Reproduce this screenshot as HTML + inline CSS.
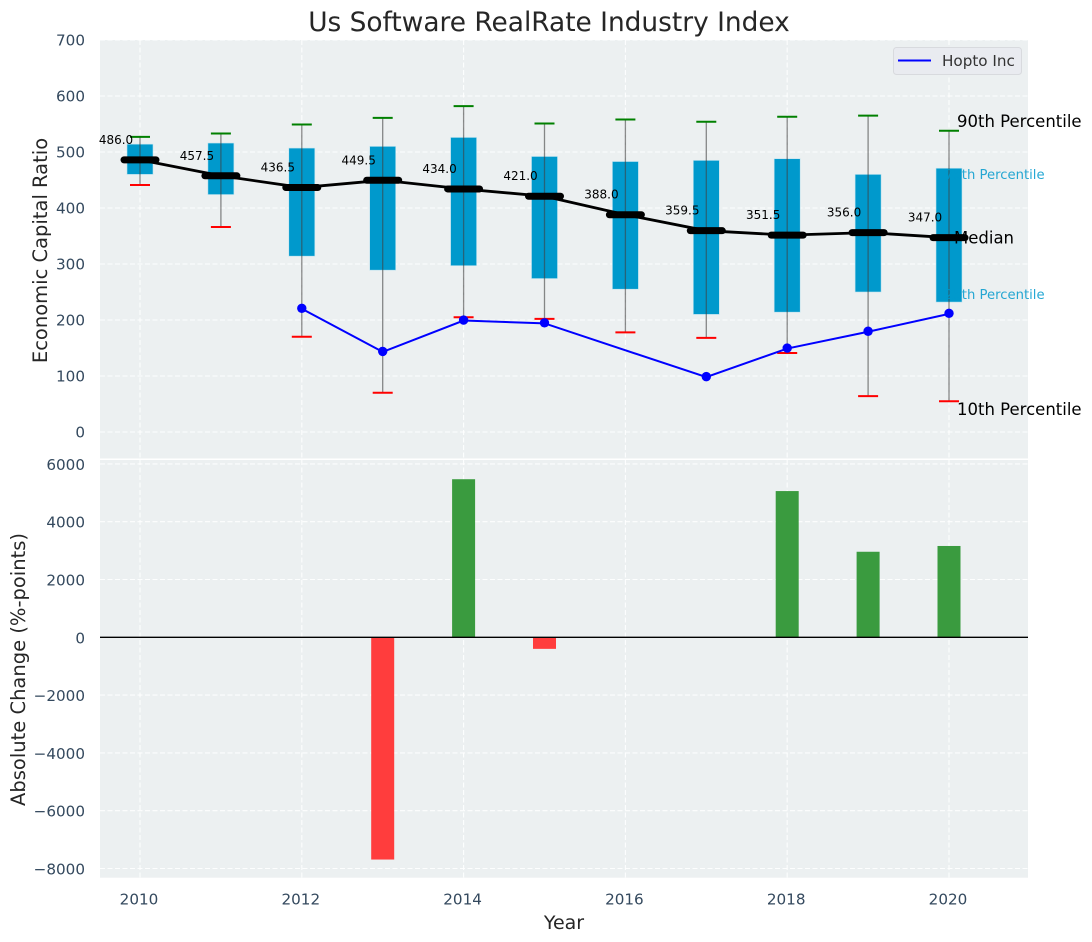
<!DOCTYPE html>
<html>
<head>
<meta charset="utf-8">
<title>Us Software RealRate Industry Index</title>
<style>
html,body{margin:0;padding:0;background:#fff;}
svg{display:block;font-family:"DejaVu Sans","Liberation Sans",sans-serif;}
</style>
</head>
<body>
<svg id="chart" xmlns="http://www.w3.org/2000/svg" width="1092" height="942" viewBox="0 0 1092 942">
<text x="549" y="31" text-anchor="middle" font-size="26.4" fill="#262626">Us Software RealRate Industry Index</text>
<rect x="100" y="40" width="928" height="418.5" fill="#ecf0f1"/>
<rect x="100" y="460" width="928" height="417.7" fill="#ecf0f1"/>
<g id="grid"></g>
<g id="boxes"></g>
<g id="medians"></g>
<g id="company"></g>
<g id="bars"></g>
<g id="ticks"></g>
<text transform="translate(47,250.5) rotate(-90)" text-anchor="middle" font-size="19.5" fill="#262626">Economic Capital Ratio</text>
<text transform="translate(25,669.5) rotate(-90)" text-anchor="middle" font-size="19.5" fill="#262626">Absolute Change (%-points)</text>
<text x="564" y="929" text-anchor="middle" font-size="19" fill="#262626">Year</text>
<text x="957" y="127" font-size="16.5" fill="#000">90th Percentile</text>
<text x="945" y="179" font-size="13.2" fill="#0099cc" fill-opacity="0.85">75th Percentile</text>
<text x="954" y="243.5" font-size="16.5" fill="#000">Median</text>
<text x="945" y="299" font-size="13.2" fill="#0099cc" fill-opacity="0.85">25th Percentile</text>
<text x="957" y="415" font-size="16.5" fill="#000">10th Percentile</text>
<g>
<rect x="893.5" y="47.5" width="128" height="27" rx="3" fill="#e9ebf0" stroke="#d8dade" stroke-width="1"/>
<line x1="898" y1="60.5" x2="931" y2="60.5" stroke="#0000ff" stroke-width="2"/>
<text x="942" y="66" font-size="15.2" fill="#333">Hopto Inc</text>
</g>
</svg>
<script>
const years = [2010,2011,2012,2013,2014,2015,2016,2017,2018,2019,2020];
const p90 = [527,533,549,561,582,551,558,554,563,565,538];
const p75 = [514,516,507,510,526,492,483,485,488,460,471];
const medianValues = [486.0,457.5,436.5,449.5,434.0,421.0,388.0,359.5,351.5,356.0,347.0];
const p25 = [460,424,314,289,297,274,255,210,214,250,232];
const p10 = [441,366,170,70,205,202,178,168,141,64,55];
const companyYears = [2012,2013,2014,2015,2017,2018,2019,2020];
const companyValues = [220,143,199,194,98,149,179,211];
const changeYears = [2013,2014,2015,2018,2019,2020];
const changeValues = [-7690,5470,-400,5060,2960,3160];
const xTickLabels = [2010,2012,2014,2016,2018,2020];
const upperYTicks = [0,100,200,300,400,500,600,700];
const lowerYTicks = [-8000,-6000,-4000,-2000,0,2000,4000,6000];

const NS = 'http://www.w3.org/2000/svg';
function xAxis(v){ return 140 + (v - 2010) * 80.9; }
function yUpper(v){ return 432 - v * 0.56; }
function yLower(v){ return 637.3 - v * 0.0289; }
function make(tag, parent, attrs, text){
  const el = document.createElementNS(NS, tag);
  for (const k in attrs) el.setAttribute(k, attrs[k]);
  if (text !== undefined) el.textContent = text;
  parent.appendChild(el);
  return el;
}
const grid = document.getElementById('grid');
const boxes = document.getElementById('boxes');
const medians = document.getElementById('medians');
const company = document.getElementById('company');
const bars = document.getElementById('bars');
const ticks = document.getElementById('ticks');
const dashStyle = {stroke:'#ffffff','stroke-width':1.1,'stroke-dasharray':'5 2.5','stroke-opacity':0.9};

xTickLabels.forEach(function(t){
  const x = xAxis(t);
  const g1 = make('line', grid, Object.assign({x1:x,x2:x,y1:40,y2:458.5}, dashStyle));
  
  
  const g2 = make('line', grid, Object.assign({x1:x,x2:x,y1:460,y2:877.7}, dashStyle));
  
  
  const lab = make('text', ticks, {x:x-1,y:904.5,'text-anchor':'middle','font-size':15.2,fill:'#34495e'}, String(t));
  
  
});
upperYTicks.forEach(function(t){
  const y = yUpper(t);
  const g = make('line', grid, Object.assign({x1:100,x2:1028,y1:y,y2:y}, dashStyle));
  
  
  const lab = make('text', ticks, {x:85,y:y+5.5,'text-anchor':'end','font-size':15.2,fill:'#34495e'}, String(t));
  
  
});
lowerYTicks.forEach(function(t){
  const y = yLower(t);
  const g = make('line', grid, Object.assign({x1:100,x2:1028,y1:y,y2:y}, dashStyle));
  
  
  const lab = make('text', ticks, {x:85,y:y+6,'text-anchor':'end','font-size':15.2,fill:'#34495e'}, String(t).replace('-', '\u2212'));
  
  
});

years.forEach(function(yr, i){
  const x = xAxis(yr);
  const box = make('rect', boxes, {x:x-13,y:yUpper(p75[i]),width:26,height:yUpper(p25[i])-yUpper(p75[i]),fill:'#0099cc',stroke:'#bfe3ef','stroke-width':0.6});
  
  
  const whisker = make('line', boxes, {x1:x,x2:x,y1:yUpper(p90[i]),y2:yUpper(p10[i]),stroke:'#404040','stroke-opacity':0.6,'stroke-width':1.3});
  
  
  const capTop = make('line', boxes, {x1:x-10,x2:x+10,y1:yUpper(p90[i]),y2:yUpper(p90[i]),stroke:'#008000','stroke-width':2});
  
  
  const capBottom = make('line', boxes, {x1:x-10,x2:x+10,y1:yUpper(p10[i]),y2:yUpper(p10[i]),stroke:'#ff0000','stroke-width':2});
  
  
});

const medianPoints = years.map(function(yr, i){ return xAxis(yr) + ',' + yUpper(medianValues[i]); }).join(' ');
const medianLine = make('polyline', medians, {points:medianPoints,fill:'none',stroke:'#000','stroke-width':2.8});


years.forEach(function(yr, i){
  const x = xAxis(yr), y = yUpper(medianValues[i]);
  const tick = make('line', medians, {x1:x-16,x2:x+16,y1:y,y2:y,stroke:'#000','stroke-width':7,'stroke-linecap':'round'});
  
  
  const lab = make('text', medians, {x:x-24,y:y-16,'text-anchor':'middle','font-size':12,fill:'#000'}, medianValues[i].toFixed(1));
  
  
});

const companyPoints = companyYears.map(function(yr, i){ return xAxis(yr) + ',' + yUpper(companyValues[i]); }).join(' ');
const companyLine = make('polyline', company, {points:companyPoints,fill:'none',stroke:'#0000ff','stroke-width':2});


companyYears.forEach(function(yr, i){
  const dot = make('circle', company, {cx:xAxis(yr),cy:yUpper(companyValues[i])-0.5,r:4.7,fill:'#0000ff'});
  
  
});

changeYears.forEach(function(yr, i){
  const v = changeValues[i];
  const top = yLower(Math.max(v, 0)), bottom = yLower(Math.min(v, 0));
  const bar = make('rect', bars, {x:xAxis(yr)-11.5,y:top,width:23,height:bottom-top,fill:v >= 0 ? '#3a9b3f' : '#ff3d3d'});
  
  
});
const zero = make('line', bars, {x1:100,x2:1028,y1:yLower(0),y2:yLower(0),stroke:'#000','stroke-width':1.3});


</script>
</body>
</html>
